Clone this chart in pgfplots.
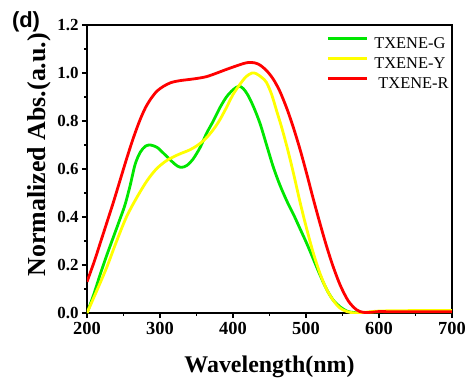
\documentclass[border=0pt]{standalone}
\usepackage{fontspec}
\setmainfont{Liberation Serif}
\newfontfamily\arialfont{Liberation Sans}
\usepackage{pgfplots}
\pgfplotsset{compat=1.18}
\definecolor{cgreen}{RGB}{0,230,0}
\definecolor{cyellow}{RGB}{255,255,0}
\definecolor{cred}{RGB}{255,0,0}
\begin{document}
\begin{tikzpicture}
\useasboundingbox (-87bp,-65bp) rectangle (384bp,313bp);
\begin{axis}[
  at={(0,0)}, anchor=south west,
  scale only axis, width=365bp, height=288bp,
  xmin=200, xmax=700, ymin=0, ymax=1.2,
  xtick={200,300,...,700}, ytick={0,0.2,...,1.2},
  minor x tick num=1, minor y tick num=1,
  tick align=outside, xtick pos=lower, ytick pos=left,
  major tick length=5bp, minor tick length=2.5bp,
  tick style={line width=1.6bp, black},
  axis line style={line width=1.8bp},
  /pgf/number format/assume math mode=true,
  yticklabel style={font=\bfseries\fontsize{17}{17}\selectfont, /pgf/number format/.cd, fixed, fixed zerofill, precision=1},
  xticklabel style={font=\bfseries\fontsize{18.5}{18.5}\selectfont, yshift=-1bp},
  xlabel={Wavelength(nm)},
  ylabel={Normalized Abs.(a.u.)},
  xlabel style={font=\bfseries\fontsize{24}{24}\selectfont, at={(axis description cs:0.5,-0.188)}, anchor=center},
  ylabel style={font=\bfseries\fontsize{26}{26}\selectfont, at={(axis description cs:-0.1315,0.55)}, anchor=center, rotate=0},
  legend style={draw=none, fill=none, inner sep=0pt, column sep=6bp, row sep=5bp,
    font=\fontsize{16.5}{16.5}\selectfont,
    nodes={inner sep=0pt, text height=12bp, text depth=3bp},
    at={(axis description cs:0.655,0.96)}, anchor=north west},
  legend cell align=left,
  legend image code/.code={\draw[#1, line width=3bp] (0bp,5.5bp) -- (39bp,5.5bp);},
]
\addplot[cgreen, line width=2.8bp, smooth] coordinates {
(200,0.00) (209,0.075) (218,0.16) (227,0.24) (236,0.315) (245,0.39) (252,0.45)
(259,0.53) (266,0.62) (273,0.67) (280,0.695) (287,0.70) (296,0.69) (305,0.665)
(315,0.635) (324,0.612) (330,0.607) (337,0.615) (345,0.64) (355,0.69) (364,0.75)
(373,0.80) (382,0.855) (391,0.90) (400,0.93) (408,0.945) (414,0.935) (420,0.91)
(428,0.86) (437,0.79) (446,0.70) (455,0.61) (464,0.535) (474,0.465) (483,0.41)
(492,0.35) (501,0.29) (510,0.225) (519,0.16) (528,0.10) (537,0.055) (547,0.025)
(556,0.008) (565,0.002) (580,0.0) (600,0.005) (650,0.005) (700,0.005)
};
\addplot[cyellow, line width=2.8bp, smooth] coordinates {
(200,0.0) (213,0.09) (227,0.19) (240,0.295) (254,0.40) (268,0.48) (282,0.55)
(295,0.60) (309,0.635) (325,0.66) (341,0.68) (352,0.70) (362,0.725) (372,0.76)
(381,0.80) (390,0.85) (400,0.91) (410,0.955) (418,0.985) (426,1.0) (432,0.997)
(440,0.98) (446,0.96) (453,0.91) (460,0.84) (467,0.77) (475,0.68) (483,0.58)
(492,0.46) (501,0.35) (510,0.25) (519,0.166) (528,0.10) (537,0.054) (546,0.022)
(556,0.006) (570,0.0) (600,0.008) (650,0.01) (700,0.01)
};
\addplot[cred, line width=2.8bp, smooth] coordinates {
(200,0.13) (210,0.215) (218,0.29) (227,0.375) (236,0.46) (245,0.55) (254,0.64)
(263,0.725) (272,0.80) (280,0.855) (288,0.895) (296,0.925) (305,0.945) (315,0.96)
(327,0.968) (340,0.973) (352,0.978) (364,0.985) (378,1.00) (391,1.015) (405,1.03)
(415,1.04) (422,1.044) (430,1.042) (437,1.033) (446,1.01) (455,0.975) (464,0.925)
(474,0.85) (483,0.77) (492,0.68) (501,0.58) (510,0.475) (519,0.375) (528,0.28)
(537,0.195) (547,0.115) (558,0.05) (569,0.014) (578,0.003) (590,0.003) (600,0.006)
(620,0.005) (650,0.005) (700,0.005)
};
\legend{TXENE-G, TXENE-Y, {\ TXENE-R}}
\end{axis}
\node[font=\arialfont\bfseries\fontsize{22}{22}\selectfont, anchor=center] at (-61bp,291bp) {(d)};
\end{tikzpicture}
\end{document}
